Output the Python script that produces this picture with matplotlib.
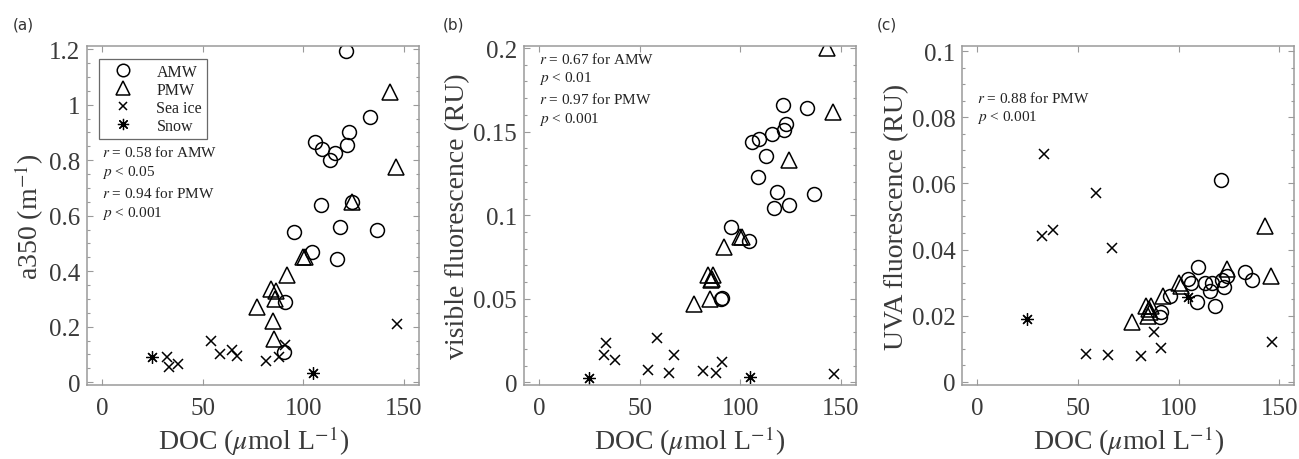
import numpy as np
import matplotlib
matplotlib.use("Agg")
import matplotlib.pyplot as plt
from matplotlib.ticker import MultipleLocator

plt.rcParams['font.family'] = ['Liberation Serif', 'DejaVu Serif']
plt.rcParams['mathtext.fontset'] = 'stix'

# ---- data ----
amw_doc = [121, 133, 106, 109.5, 113, 115.5, 121.5, 122.5, 124, 109, 95.5, 118, 136.5, 104.5, 116.5, 91, 90.5]
amw_a350 = [1.195, 0.955, 0.865, 0.84, 0.80, 0.825, 0.855, 0.90, 0.65, 0.64, 0.54, 0.56, 0.55, 0.47, 0.445, 0.29, 0.11]
amw_vis = [0.1658, 0.164, 0.1437, 0.1455, 0.1357, 0.1485, 0.1512, 0.1546, 0.1059, 0.1226, 0.0929, 0.1140, 0.1126, 0.0844, 0.1043, 0.0507, 0.0500]
amw_uva = [0.061, 0.0332, 0.030, 0.0347, 0.0298, 0.0273, 0.0307, 0.0288, 0.032, 0.0242, 0.026, 0.023, 0.0307, 0.031, 0.030, 0.0212, 0.0195]

pmw_doc = [143, 146, 124, 100, 101, 92, 84, 86.5, 86, 77, 85, 85.5]
pmw_a350 = [1.045, 0.775, 0.65, 0.45, 0.45, 0.385, 0.335, 0.33, 0.30, 0.27, 0.22, 0.155]
pmw_vis = [0.200, 0.162, 0.133, 0.087, 0.087, 0.081, 0.064, 0.064, 0.062, 0.047, 0.050, 0.061]
pmw_uva = [0.047, 0.032, 0.034, 0.030, 0.029, 0.026, 0.023, 0.023, 0.021, 0.018, 0.020, 0.022]

ice_doc = [32, 33.3, 37.5, 54, 58.7, 64.7, 67, 81.3, 88, 91, 146.5]
ice_a350 = [0.091, 0.053, 0.067, 0.150, 0.102, 0.117, 0.096, 0.077, 0.091, 0.135, 0.208]
ice_vis = [0.0165, 0.0235, 0.0135, 0.0074, 0.0265, 0.0054, 0.0165, 0.0068, 0.0054, 0.0121, 0.0048]
ice_uva = [0.044, 0.069, 0.046, 0.0085, 0.057, 0.008, 0.0405, 0.0077, 0.015, 0.0102, 0.012]

snow_doc = [24.7, 104.7]
snow_a350 = [0.09, 0.033]
snow_vis = [0.0025, 0.003]
snow_uva = [0.019, 0.0255]

ylabels = ['a350 (m$^{-1}$)', 'visible fluorescence (RU)', 'UVA fluorescence (RU)']
panel_tags = ['(a)', '(b)', '(c)']
ylims = [(-0.01, 1.21), (-0.0015, 0.201), (-0.001, 0.1015)]
ymajor = [0.2, 0.05, 0.02]
yminor = [0.05, 0.01, 0.005]
notes = [
    ['$r$ = 0.58 for AMW', '$p$ < 0.05', '$r$ = 0.94 for PMW', '$p$ < 0.001'],
    ['$r$ = 0.67 for AMW', '$p$ < 0.01', '$r$ = 0.97 for PMW', '$p$ < 0.001'],
    ['$r$ = 0.88 for PMW', '$p$ < 0.001'],
]
note_y = [[0.689, 0.631, 0.569, 0.510], [0.965, 0.909, 0.845, 0.786], [0.849, 0.793]]

series = [
    (amw_a350, pmw_a350, ice_a350, snow_a350),
    (amw_vis, pmw_vis, ice_vis, snow_vis),
    (amw_uva, pmw_uva, ice_uva, snow_uva),
]

fig = plt.figure(figsize=(12.99, 4.6), dpi=100)
lefts = [0.067, 0.4034, 0.7408]
tag_x = [0.010, 0.341, 0.675]

spine_col = '#9a9a9a'
txt_col = '#3a3a3a'
asterisk = (8, 2, 0)

for i in range(3):
    ax = fig.add_axes([lefts[i], 0.161, 0.2556, 0.736])
    a, p, s, w = series[i]
    ax.plot(amw_doc, a, 'o', ms=10, mfc='none', mec='k', mew=1.1, ls='none', label='AMW')
    ax.plot(pmw_doc, p, '^', ms=11, mfc='none', mec='k', mew=1.1, ls='none', label='PMW')
    ax.plot(ice_doc, s, 'x', ms=6.5, mec='k', mew=1.1, ls='none', label='Sea ice')
    ax.plot(snow_doc, w, marker=asterisk, ms=9, mec='k', mew=0.9, ls='none', label='Snow')

    ax.set_xlim(-7.5, 157.5)
    ax.set_ylim(*ylims[i])
    ax.set_xticks([0, 50, 100, 150])
    ax.yaxis.set_major_locator(MultipleLocator(ymajor[i]))
    ax.yaxis.set_minor_locator(MultipleLocator(yminor[i]))
    ax.yaxis.set_major_formatter(plt.FuncFormatter(lambda v, pos: ('%g' % round(v, 4))))
    ax.tick_params(which='both', direction='in', top=True, right=True,
                   colors=spine_col, labelcolor=txt_col, labelsize=18, width=0.8)
    ax.tick_params(which='major', length=4)
    ax.tick_params(which='minor', length=2.5)
    ax.tick_params(axis='x', pad=9)
    ax.tick_params(axis='y', pad=5)
    for sp in ax.spines.values():
        sp.set_color(spine_col)
        sp.set_linewidth(1.1)

    ax.set_xlabel('DOC ($\\mu$mol L$^{-1}$)', fontsize=20, color=txt_col, labelpad=3)
    ax.set_ylabel(ylabels[i], fontsize=20, color=txt_col, labelpad=2)

    for txt, yy in zip(notes[i], note_y[i]):
        ax.text(0.045, yy, txt, transform=ax.transAxes, fontsize=11,
                color='#222222', va='center', ha='left')

    fig.text(tag_x[i], 0.945, panel_tags[i], fontsize=11, color='#333333',
             family='DejaVu Sans', va='center')

    if i == 0:
        leg = ax.legend(loc='upper left', bbox_to_anchor=(0.036, 0.962), borderaxespad=0,
                        fontsize=11.5, frameon=True, fancybox=False, handlelength=2.4,
                        handletextpad=0.9, labelspacing=0.12, borderpad=0.3,
                        markerscale=0.9)
        leg.get_frame().set_edgecolor('#444444')
        leg.get_frame().set_linewidth(0.9)
        for t in leg.get_texts():
            t.set_color('#222222')

fig.savefig('out.png', dpi=100)
